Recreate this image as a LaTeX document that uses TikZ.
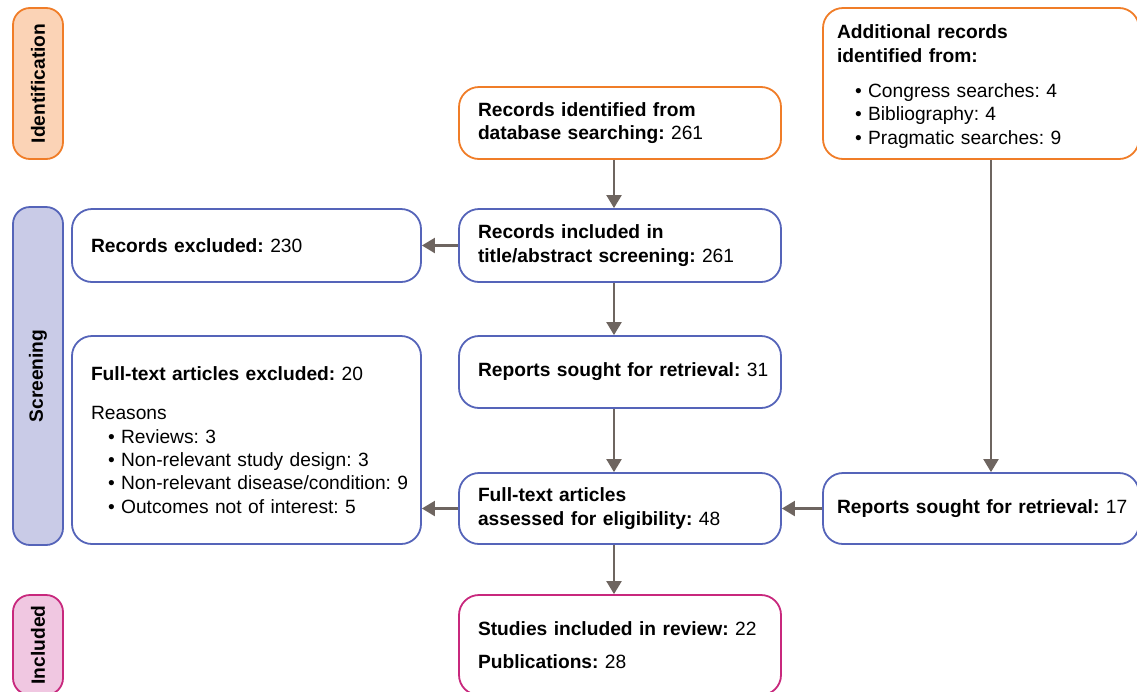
\documentclass[tikz,border=0pt]{standalone}
\usepackage{fontspec}
\setmainfont{Liberation Sans}
\usetikzlibrary{arrows.meta}
\definecolor{orgB}{RGB}{240,125,40}
\definecolor{orgF}{RGB}{251,211,182}
\definecolor{bluB}{RGB}{85,100,185}
\definecolor{bluF}{RGB}{201,203,231}
\definecolor{magB}{RGB}{200,40,125}
\definecolor{magF}{RGB}{240,199,225}
\definecolor{arrC}{RGB}{110,101,96}
\newcommand{\bxline}[1]{\mbox{#1}}
\tikzset{
  box/.style={draw, line width=1.8pt, rounded corners=20pt, fill=white,
    align=left, inner xsep=0pt, inner ysep=0pt,
    font=\fontsize{19.2}{23.4}\selectfont\frenchspacing},
  lab/.style={draw, line width=1.8pt, rounded corners=17pt, rotate=90,
    inner sep=0pt, font=\bfseries\fontsize{19.2}{23.4}\selectfont},
  arr/.style={draw=arrC, line width=2.2pt, -{Triangle[length=13pt,width=15pt]}}
}
\begin{document}
\begin{tikzpicture}[x=1pt,y=-1pt]
\path[use as bounding box, clip] (0,0) rectangle (1137,691);
% stage labels
\node[lab, draw=orgB, fill=orgF, minimum width=151, minimum height=50] (ident) at (38,83.5) {Identification};
\node[lab, draw=bluB, fill=bluF, minimum width=338, minimum height=50] (screen) at (38,376) {Screening};
\node[lab, draw=magB, fill=magF, minimum width=100, minimum height=50] (incl) at (38,645) {Included};
% boxes
\node[box, draw=orgB, minimum width=322, minimum height=72, text width=284pt] (recid) at (620,123)
  {\bxline{\textbf{Records identified from}}\\\bxline{\textbf{database searching:} 261}};
\node[box, draw=bluB, minimum width=322, minimum height=73, text width=284pt] (recinc) at (620,245.5)
  {\bxline{\textbf{Records included in}}\\\bxline{\textbf{title/abstract screening:} 261}};
\node[box, draw=bluB, minimum width=349, minimum height=73, text width=311pt] (recexc) at (246.5,245.5)
  {\bxline{\textbf{Records excluded:} 230}};
\node[box, draw=orgB, minimum width=316, minimum height=151, text width=288pt] (addl) at (981,83.5)
  {\bxline{\rule{0pt}{20pt}\textbf{Additional records}}\\\bxline{\textbf{identified from:}}\\[12pt]
   \bxline{\hspace*{18pt}\textbullet\ Congress searches: 4}\\
   \bxline{\hspace*{18pt}\textbullet\ Bibliography: 4}\\
   \bxline{\hspace*{18pt}\textbullet\ Pragmatic searches: 9}};
\node[box, draw=bluB, minimum width=322, minimum height=72, text width=284pt] (sought31) at (620,372)
  {\bxline{\textbf{Reports sought for retrieval:} 31}};
\node[box, draw=bluB, minimum width=349, minimum height=208, text width=311pt] (ftexc) at (246.5,440)
  {\bxline{\textbf{Full-text articles excluded:} 20}\\[16pt]
   \bxline{Reasons}\\
   \bxline{\hspace*{17pt}\textbullet\ Reviews: 3}\\
   \bxline{\hspace*{17pt}\textbullet\ Non-relevant study design: 3}\\
   \bxline{\hspace*{17pt}\textbullet\ Non-relevant disease/condition: 9}\\
   \bxline{\hspace*{17pt}\textbullet\ Outcomes not of interest: 5}};
\node[box, draw=bluB, minimum width=322, minimum height=71, text width=284pt] (ftass) at (620,508.5)
  {\bxline{\textbf{Full-text articles}}\\\bxline{\textbf{assessed for eligibility:} 48}};
\node[box, draw=bluB, minimum width=316, minimum height=71, text width=288pt] (sought17) at (981,508.5)
  {\bxline{\textbf{Reports sought for retrieval:} 17}};
\node[box, draw=magB, minimum width=322, minimum height=100, text width=284pt] (studies) at (620,645)
  {\bxline{\textbf{Studies included in review:} 22}\\[10pt]\bxline{\textbf{Publications:} 28}};
% connector guides
\coordinate (cx) at (614,0);
\coordinate (rx) at (991,0);
% connectors
\draw[arr] (recid.south -| cx) -- (recinc.north -| cx);
\draw[arr] (recinc.south -| cx) -- (sought31.north -| cx);
\draw[arr] (sought31.south -| cx) -- (ftass.north -| cx);
\draw[arr] (ftass.south -| cx) -- (studies.north -| cx);
\draw[arr] (recinc.west) -- (recexc.east);
\draw[arr] (ftass.west) -- (ftass.west -| ftexc.east);
\draw[arr] (sought17.west) -- (ftass.east);
\draw[arr] (addl.south -| rx) -- (sought17.north -| rx);
\end{tikzpicture}
\end{document}
